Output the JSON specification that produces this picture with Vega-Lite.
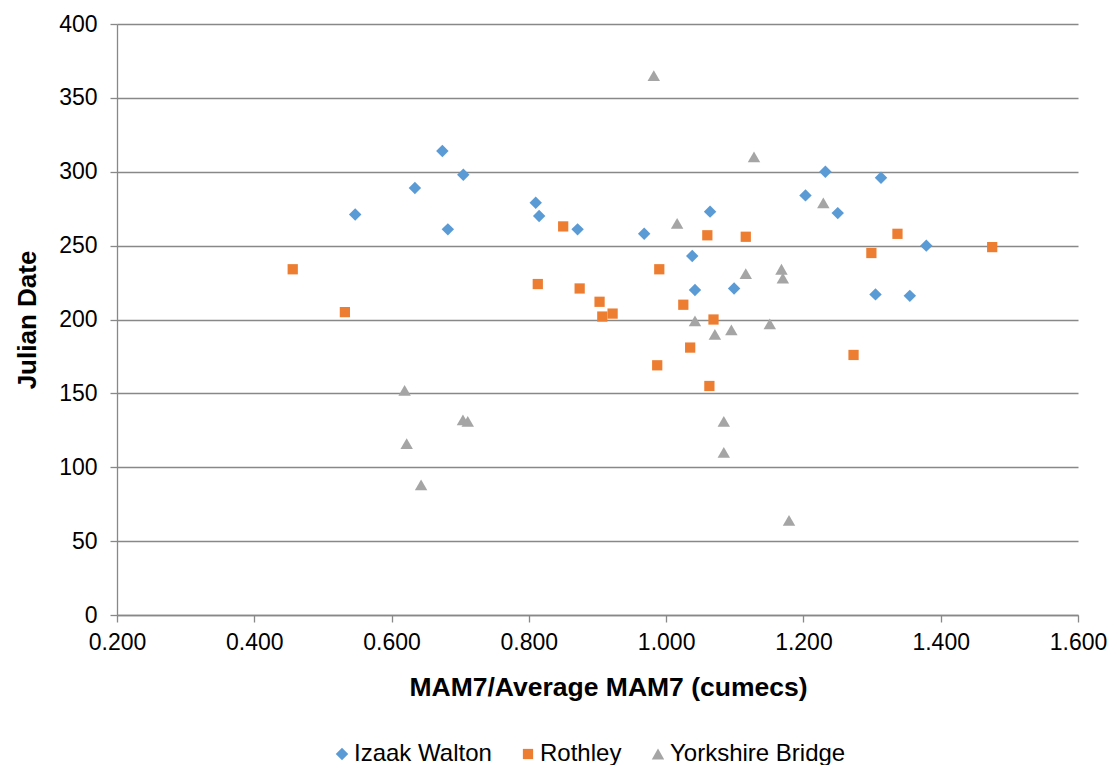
{
  "$schema": "https://vega.github.io/schema/vega-lite/v6.json",
  "autosize": "none",
  "width": 961,
  "height": 591,
  "padding": {"left": 117, "top": 24, "right": 42, "bottom": 150},
  "background": "white",
  "config": {
    "font": "Liberation Sans",
    "view": {"stroke": null},
    "axis": {"labelFont": "Liberation Sans", "titleFont": "Liberation Sans", "labelColor": "#000000", "titleColor": "#000000", "labelFontSize": 23, "titleFontSize": 26, "titleFontWeight": "bold", "domainColor": "#888888", "tickColor": "#888888", "gridColor": "#888888", "tickSize": 7, "domainWidth": 1.3, "tickWidth": 1.3, "gridWidth": 1.3, "labelFlush": false, "labelOverlap": false}
  },
  "data": {
    "values": [
      {"series": "Izaak Walton", "x": 0.547, "y": 271},
      {"series": "Izaak Walton", "x": 0.634, "y": 289},
      {"series": "Izaak Walton", "x": 0.674, "y": 314},
      {"series": "Izaak Walton", "x": 0.682, "y": 261},
      {"series": "Izaak Walton", "x": 0.7045, "y": 298},
      {"series": "Izaak Walton", "x": 0.810, "y": 279},
      {"series": "Izaak Walton", "x": 0.815, "y": 270},
      {"series": "Izaak Walton", "x": 0.871, "y": 261},
      {"series": "Izaak Walton", "x": 0.968, "y": 258},
      {"series": "Izaak Walton", "x": 1.038, "y": 243},
      {"series": "Izaak Walton", "x": 1.042, "y": 220},
      {"series": "Izaak Walton", "x": 1.064, "y": 273},
      {"series": "Izaak Walton", "x": 1.099, "y": 221},
      {"series": "Izaak Walton", "x": 1.203, "y": 284},
      {"series": "Izaak Walton", "x": 1.232, "y": 300},
      {"series": "Izaak Walton", "x": 1.250, "y": 272},
      {"series": "Izaak Walton", "x": 1.305, "y": 217},
      {"series": "Izaak Walton", "x": 1.313, "y": 296},
      {"series": "Izaak Walton", "x": 1.355, "y": 216},
      {"series": "Izaak Walton", "x": 1.379, "y": 250},
      {"series": "Rothley", "x": 0.456, "y": 234},
      {"series": "Rothley", "x": 0.532, "y": 205},
      {"series": "Rothley", "x": 0.813, "y": 224},
      {"series": "Rothley", "x": 0.850, "y": 263},
      {"series": "Rothley", "x": 0.874, "y": 221},
      {"series": "Rothley", "x": 0.903, "y": 212},
      {"series": "Rothley", "x": 0.907, "y": 202},
      {"series": "Rothley", "x": 0.922, "y": 204},
      {"series": "Rothley", "x": 0.987, "y": 169},
      {"series": "Rothley", "x": 0.990, "y": 234},
      {"series": "Rothley", "x": 1.025, "y": 210},
      {"series": "Rothley", "x": 1.035, "y": 181},
      {"series": "Rothley", "x": 1.060, "y": 257},
      {"series": "Rothley", "x": 1.063, "y": 155},
      {"series": "Rothley", "x": 1.069, "y": 200},
      {"series": "Rothley", "x": 1.116, "y": 256},
      {"series": "Rothley", "x": 1.273, "y": 176},
      {"series": "Rothley", "x": 1.299, "y": 245},
      {"series": "Rothley", "x": 1.337, "y": 258},
      {"series": "Rothley", "x": 1.475, "y": 249},
      {"series": "Yorkshire Bridge", "x": 0.619, "y": 152},
      {"series": "Yorkshire Bridge", "x": 0.622, "y": 116},
      {"series": "Yorkshire Bridge", "x": 0.643, "y": 88},
      {"series": "Yorkshire Bridge", "x": 0.704, "y": 132},
      {"series": "Yorkshire Bridge", "x": 0.711, "y": 131},
      {"series": "Yorkshire Bridge", "x": 0.982, "y": 365},
      {"series": "Yorkshire Bridge", "x": 1.016, "y": 265},
      {"series": "Yorkshire Bridge", "x": 1.042, "y": 199},
      {"series": "Yorkshire Bridge", "x": 1.071, "y": 190},
      {"series": "Yorkshire Bridge", "x": 1.084, "y": 131},
      {"series": "Yorkshire Bridge", "x": 1.084, "y": 110},
      {"series": "Yorkshire Bridge", "x": 1.095, "y": 193},
      {"series": "Yorkshire Bridge", "x": 1.116, "y": 231},
      {"series": "Yorkshire Bridge", "x": 1.128, "y": 310},
      {"series": "Yorkshire Bridge", "x": 1.151, "y": 197},
      {"series": "Yorkshire Bridge", "x": 1.168, "y": 234},
      {"series": "Yorkshire Bridge", "x": 1.170, "y": 228},
      {"series": "Yorkshire Bridge", "x": 1.179, "y": 64},
      {"series": "Yorkshire Bridge", "x": 1.229, "y": 279}
    ]
  },
  "mark": {"type": "point", "filled": true, "opacity": 1},
  "encoding": {
    "x": {
      "field": "x", "type": "quantitative",
      "scale": {"domain": [0.2, 1.6], "nice": false, "zero": false},
      "axis": {"values": [0.2, 0.4, 0.6, 0.8, 1.0, 1.2, 1.4, 1.6], "format": ".3f", "grid": false, "title": "MAM7/Average MAM7 (cumecs)", "titleFontSize": 26.5, "titleX": 491, "labelPadding": 9, "titlePadding": 20}
    },
    "y": {
      "field": "y", "type": "quantitative",
      "scale": {"domain": [0, 400], "nice": false},
      "axis": {"values": [0, 50, 100, 150, 200, 250, 300, 350, 400], "grid": true, "title": "Julian Date", "labelPadding": 13, "titlePadding": 18}
    },
    "color": {
      "field": "series", "type": "nominal",
      "scale": {"domain": ["Izaak Walton", "Rothley", "Yorkshire Bridge"], "range": ["#5B9BD5", "#ED7D31", "#A5A5A5"]},
      "legend": {"orient": "none", "legendX": 213, "legendY": 718, "direction": "horizontal", "title": null, "labelFontSize": 24, "labelFont": "Liberation Sans", "labelColor": "#000000", "labelLimit": 500, "symbolStrokeWidth": 0, "columnPadding": 24, "labelOffset": 0}
    },
    "shape": {
      "field": "series", "type": "nominal",
      "scale": {"domain": ["Izaak Walton", "Rothley", "Yorkshire Bridge"], "range": ["diamond", "square", "triangle-up"]}
    },
    "size": {
      "field": "series", "type": "nominal",
      "scale": {"type": "ordinal", "domain": ["Izaak Walton", "Rothley", "Yorkshire Bridge"], "range": [155, 105, 155]}
    }
  }
}
